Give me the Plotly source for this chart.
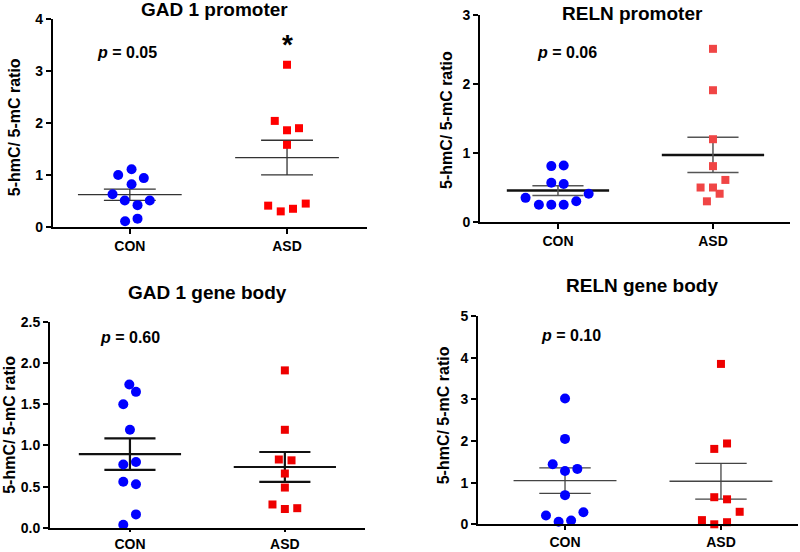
import numpy as np
import plotly.graph_objects as go

# ---------------- data ----------------
groups = ["CON", "ASD"]

gad_prom_con = [1.00, 1.11, 0.94, 0.82, 0.63, 0.51, 0.51, 0.42, 0.16, 0.11]
gad_prom_asd = [2.04, 1.86, 1.90, 1.58, 3.12, 0.41, 0.30, 0.35, 0.45]
gad_prom_con_jit = [-0.074, 0.011, 0.089, 0.011, -0.11, -0.032, 0.127, 0.049, 0.049, -0.030]
gad_prom_asd_jit = [-0.078, 0.0, 0.076, 0.0, 0.0, -0.12, -0.04, 0.038, 0.119]

reln_prom_con = [0.81, 0.82, 0.57, 0.55, 0.35, 0.25, 0.25, 0.25, 0.30, 0.41]
reln_prom_asd = [2.51, 1.91, 1.20, 0.81, 0.50, 0.50, 0.61, 0.41, 0.30]
reln_prom_con_jit = [-0.043, 0.037, -0.043, 0.037, -0.209, -0.123, -0.043, 0.037, 0.118, 0.198]
reln_prom_asd_jit = [0.0, 0.0, 0.0, 0.0, -0.08, 0.0, 0.08, 0.043, -0.039]

gad_body_con = [1.74, 1.65, 1.50, 1.19, 0.77, 0.80, 0.56, 0.53, 0.165, 0.04]
gad_body_asd = [1.91, 1.19, 0.83, 0.82, 0.66, 0.49, 0.285, 0.23, 0.24]
gad_body_con_jit = [-0.004, 0.039, -0.043, 0.0, -0.043, 0.039, -0.043, 0.039, 0.039, -0.043]
gad_body_asd_jit = [0.0, 0.0, -0.039, 0.043, 0.0, 0.0, -0.08, 0.0, 0.08]

reln_body_con = [3.02, 2.05, 1.44, 1.28, 1.33, 0.70, 0.21, 0.29, 0.06, 0.09]
reln_body_asd = [3.85, 1.81, 1.94, 0.65, 0.60, 0.30, 0.10, 0.0, 0.05]
reln_body_con_jit = [0.0, 0.0, -0.079, 0.0, 0.079, 0.0, -0.122, 0.118, -0.041, 0.039]
reln_body_asd_jit = [0.0, -0.043, 0.039, -0.043, 0.039, 0.12, -0.122, -0.043, 0.039]

titles = ["GAD 1 promoter", "RELN promoter", "GAD 1 gene body", "RELN gene body"]
p_texts = ["0.05", "0.06", "0.60", "0.10"]
y_label = "5-hmC/ 5-mC ratio"

panels = [
    dict(con=gad_prom_con, asd=gad_prom_asd, cj=gad_prom_con_jit, aj=gad_prom_asd_jit,
         xdom=[0.066, 0.459], ydom=[0.5888, 0.9656], xr=[-0.49, 1.51], yr=[0, 4], dtick=1, fmt="",
         mw=1.3, mc="#333333", sw=1.3, sc="#333333", red="#FF0000", xtl=5,
         title_xy=(0.268, 0.982), p_xy=(-0.02, 3.35), ylab_xy=(0.019, 0.77)),
    dict(con=reln_prom_con, asd=reln_prom_asd, cj=reln_prom_con_jit, aj=reln_prom_asd_jit,
         xdom=[0.600, 0.9875], ydom=[0.5978, 0.9728], xr=[-0.503, 1.497], yr=[0, 3], dtick=1, fmt="",
         mw=2.6, mc="#111111", sw=1.5, sc="#555555", red="#F04545", xtl=5,
         title_xy=(0.79, 0.975), p_xy=(0.06, 2.45), ylab_xy=(0.559, 0.783)),
    dict(con=gad_body_con, asd=gad_body_asd, cj=gad_body_con_jit, aj=gad_body_asd_jit,
         xdom=[0.0625, 0.456], ydom=[0.0435, 0.4172], xr=[-0.516, 1.516], yr=[0, 2.5], dtick=0.5, fmt=".1f",
         mw=2.2, mc="#111111", sw=2.2, sc="#111111", red="#EE0000", xtl=2,
         title_xy=(0.259, 0.47), p_xy=(0.0, 2.31), ylab_xy=(0.011, 0.23)),
    dict(con=reln_body_con, asd=reln_body_asd, cj=reln_body_con_jit, aj=reln_body_asd_jit,
         xdom=[0.5975, 0.9975], ydom=[0.0502, 0.4275], xr=[-0.558, 1.494], yr=[0, 5], dtick=1, fmt="",
         mw=1.3, mc="#444444", sw=1.3, sc="#444444", red="#EE0000", xtl=4,
         title_xy=(0.8025, 0.483), p_xy=(0.04, 4.54), ylab_xy=(0.554, 0.248)),
]

FONT = "Liberation Sans, Arial, sans-serif"
fig = go.Figure()
annotations = []
MEAN_HALF = 0.33
CAP_HALF = 0.165

for i, p in enumerate(panels):
    k = "" if i == 0 else str(i + 1)
    xa, ya = "x" + k, "y" + k
    for gi, vals in enumerate([p["con"], p["asd"]]):
        v = np.array(vals)
        m = v.mean()
        s = v.std(ddof=1) / np.sqrt(len(v))
        fig.add_trace(go.Scatter(x=[gi - MEAN_HALF, gi + MEAN_HALF], y=[m, m], mode="lines",
                                 line=dict(color=p["mc"], width=p["mw"]), xaxis=xa, yaxis=ya,
                                 showlegend=False, hoverinfo="skip"))
        fig.add_trace(go.Scatter(
            x=[gi - CAP_HALF, gi + CAP_HALF, None, gi - CAP_HALF, gi + CAP_HALF, None, gi, gi],
            y=[m + s, m + s, None, m - s, m - s, None, m - s, m + s],
            mode="lines", line=dict(color=p["sc"], width=p["sw"]), xaxis=xa, yaxis=ya,
            showlegend=False, hoverinfo="skip"))
    fig.add_trace(go.Scatter(x=[0 + j for j in p["cj"]], y=p["con"], mode="markers",
                             marker=dict(symbol="circle", size=10, color="#0000FF"),
                             xaxis=xa, yaxis=ya, showlegend=False, cliponaxis=False))
    fig.add_trace(go.Scatter(x=[1 + j for j in p["aj"]], y=p["asd"], mode="markers",
                             marker=dict(symbol="square", size=8, color=p["red"]),
                             xaxis=xa, yaxis=ya, showlegend=False, cliponaxis=False))

    axis_common = dict(showline=True, linecolor="black", linewidth=2, ticks="outside",
                       tickwidth=2, tickcolor="black", showgrid=False, zeroline=False,
                       automargin=False,
                       tickfont=dict(family=FONT, size=14, color="black", weight="bold"))
    fig.update_layout(**{
        "xaxis" + k: dict(domain=p["xdom"], range=p["xr"], tickvals=[0, 1], ticktext=groups,
                          anchor=ya, ticklen=p["xtl"], **axis_common),
        "yaxis" + k: dict(domain=p["ydom"], range=p["yr"], dtick=p["dtick"], tick0=0,
                          tickformat=p["fmt"], anchor=xa, ticklen=5, **axis_common),
    })
    annotations.append(dict(text=titles[i], x=p["title_xy"][0], y=p["title_xy"][1], xref="paper",
                            yref="paper", showarrow=False, xanchor="center", yanchor="middle",
                            font=dict(family=FONT, size=19, color="black", weight="bold")))
    annotations.append(dict(text="<i>p</i> = " + p_texts[i], x=p["p_xy"][0], y=p["p_xy"][1],
                            xref=xa, yref=ya, showarrow=False, xanchor="center", yanchor="middle",
                            font=dict(family=FONT, size=16, color="black", weight="bold")))
    annotations.append(dict(text=y_label, x=p["ylab_xy"][0], y=p["ylab_xy"][1], xref="paper",
                            yref="paper", showarrow=False, textangle=-90, xanchor="center",
                            yanchor="middle",
                            font=dict(family=FONT, size=16, color="black", weight="bold")))

annotations.append(dict(text="*", x=1, y=3.5, xref="x", yref="y", showarrow=False,
                        xanchor="center", yanchor="middle",
                        font=dict(family=FONT, size=28, color="black", weight="bold")))

fig.update_layout(width=800, height=552,
                  margin=dict(l=0, r=0, t=0, b=0, pad=0, autoexpand=False),
                  paper_bgcolor="white", plot_bgcolor="white", annotations=annotations,
                  showlegend=False)

fig.write_html("out.html", config={"displayModeBar": False},
               post_script="document.body.style.margin='0px';")
